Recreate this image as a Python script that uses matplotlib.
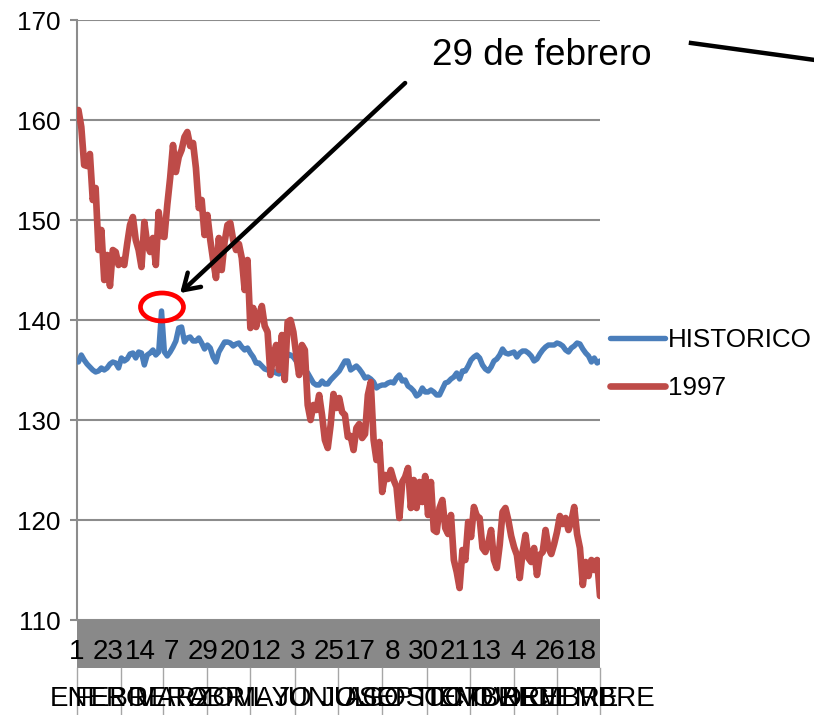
import numpy as np
import pandas as pd
import matplotlib
matplotlib.use('Agg')
import matplotlib.pyplot as plt
import matplotlib.transforms as mtransforms
from matplotlib.patches import Ellipse, Rectangle
from matplotlib.lines import Line2D

plt.rcParams['font.family'] = ['Liberation Sans', 'DejaVu Sans']

# leap-year calendar: 366 daily categories, 29 Feb = index 59
dates = pd.date_range('1996-01-01', '1996-12-31', freq='D')
month_names = ['ENERO', 'FEBRERO', 'MARZO', 'ABRIL', 'MAYO', 'JUNIO', 'JULIO',
               'AGOSTO', 'SEPTIEMBRE', 'OCTUBRE', 'NOVIEMBRE', 'DICIEMBRE']
label_step = 22

# values read every second day (odd day indices 1..365)
sample_days = np.arange(1, len(dates), 2)

historico = [
    135.8, 136.5, 136.0, 135.6, 135.3, 135.0, 134.8, 134.9, 135.2, 135.0,
    135.2, 135.6, 135.8, 135.7, 135.2, 136.2, 135.9, 136.1, 136.6, 136.7,
    136.2, 136.8, 136.7, 135.5, 136.5, 136.7, 137.0, 136.5, 136.8, 140.9,
    136.8, 136.4, 136.8, 137.3, 137.9, 139.2, 139.3, 137.8, 138.2, 138.3,
    137.9, 137.9, 138.2, 137.7, 137.1, 137.5, 137.2, 136.3, 135.8, 136.8,
    137.3, 137.8, 137.8, 137.7, 137.4, 137.6, 137.7, 137.3, 137.0, 137.2,
    136.7, 136.3, 135.7, 135.7, 135.4, 135.1, 135.0, 134.9, 134.9, 134.7,
    134.6, 135.0, 135.6, 136.6, 136.5, 136.3, 135.9, 135.6, 135.4, 135.1,
    134.7, 134.2, 133.7, 133.5, 133.5, 133.9, 133.6, 133.6, 134.0, 134.3,
    134.6, 134.9, 135.4, 135.9, 135.9, 135.0, 135.2, 135.4, 135.1, 134.7,
    134.2, 134.3, 134.1, 133.8, 133.2, 133.4, 133.5, 133.5, 133.7, 133.8,
    133.7, 134.2, 134.5, 133.9, 134.0, 133.4, 133.2, 132.9, 132.4, 132.6,
    133.2, 132.8, 132.8, 133.0, 132.8, 132.5, 132.5, 133.1, 133.7, 133.8,
    134.1, 134.3, 134.7, 134.1, 134.9, 134.9, 135.4, 136.0, 136.3, 136.5,
    136.2, 135.5, 135.1, 134.9, 135.3, 135.9, 136.1, 136.5, 137.1, 136.7,
    136.6, 136.7, 136.8, 136.3, 136.7, 136.9, 136.9, 136.7, 136.4, 135.9,
    136.1, 136.6, 137.0, 137.3, 137.5, 137.5, 137.5, 137.7, 137.6, 137.4,
    137.0, 136.8, 137.2, 137.4, 137.7, 137.6, 137.1, 136.7, 136.4, 135.8,
    136.2, 135.7, 135.9,
]

serie_1997 = [
    161.0, 159.3, 155.5, 155.4, 156.6, 152.0, 153.2, 147.0, 149.0, 144.0,
    146.5, 143.4, 147.0, 146.8, 145.5, 146.0, 145.5, 147.6, 149.5, 150.3,
    148.0, 147.0, 145.3, 149.8, 147.6, 146.8, 148.2, 145.5, 150.8, 148.4,
    148.3, 151.5, 154.2, 157.5, 154.8, 156.3, 157.0, 158.3, 158.8, 157.4,
    157.7, 155.2, 151.2, 152.0, 148.5, 150.5, 148.0, 146.0, 144.2, 148.2,
    145.0, 147.8, 149.5, 149.7, 148.0, 147.0, 147.6, 146.2, 143.0, 146.0,
    139.2, 141.2, 139.3, 140.5, 141.4, 139.4, 138.8, 134.5, 136.5, 137.5,
    135.0, 138.5, 134.0, 139.8, 140.0, 138.8, 136.5, 134.5, 137.5, 137.0,
    131.5, 130.0, 131.5, 131.0, 132.5, 130.5, 128.0, 127.2, 129.5, 132.6,
    131.2, 132.2, 130.8, 130.5, 128.3, 128.4, 127.0, 129.2, 129.6, 128.2,
    128.6, 132.5, 133.8, 128.0, 126.0, 127.8, 122.8, 124.5, 124.1, 125.0,
    124.0, 123.3, 120.2, 123.8, 124.3, 125.2, 121.2, 124.0, 121.2, 123.8,
    121.8, 124.4, 120.5, 123.8, 119.0, 118.8, 121.2, 122.0, 119.2, 118.6,
    120.5, 116.0, 114.8, 113.2, 117.0, 116.0, 119.8, 118.3, 121.3, 120.4,
    120.2, 117.2, 116.8, 117.7, 119.0, 116.0, 115.2, 117.5, 120.8, 121.2,
    120.0, 118.4, 117.3, 116.5, 114.2, 116.8, 118.5, 116.2, 115.8, 117.2,
    114.5, 116.5, 116.8, 119.0, 117.2, 116.6, 117.6, 118.8, 120.4, 119.6,
    120.2, 119.0, 119.9, 121.3, 118.6, 117.2, 113.5, 115.8, 114.4, 116.0,
    115.0, 116.0, 112.4,
]

BLUE = '#4A7EBB'
RED = '#BE4B48'
GRID = '#8C8C8C'
FS = 18.7
FS_CAT = 20

W, H = 814, 715
fig = plt.figure(figsize=(W / 100, H / 100), dpi=100)
ax = fig.add_axes([77 / W, (H - 620) / H, 523 / W, 600 / H])

ax.plot(sample_days, historico, color=BLUE, lw=3.9, solid_joinstyle='round',
        solid_capstyle='round', label='HISTORICO', zorder=3)
ax.plot(sample_days, serie_1997, color=RED, lw=4.8, solid_joinstyle='round',
        solid_capstyle='round', label='1997', zorder=4)

n_days = len(dates)
ax.set_xlim(0, n_days - 1)
ax.set_ylim(110, 170)
ax.set_yticks(np.arange(110, 171, 10))
ax.yaxis.grid(True, color=GRID, lw=1.5, zorder=0)
ax.set_axisbelow(True)
ax.set_xticks([])
for side in ['top', 'right', 'bottom']:
    ax.spines[side].set_visible(False)
ax.spines['left'].set_color(GRID)
ax.spines['left'].set_linewidth(1.5)
ax.tick_params(axis='y', length=5, width=1.5, color=GRID, labelsize=FS, pad=7)

# two-level category axis below the plot (grey day band + month groups)
trans = mtransforms.blended_transform_factory(ax.transData, ax.transAxes)
band_h = 48 / 600
ax.add_patch(Rectangle((0, -band_h), n_days - 1, band_h, transform=trans,
                       facecolor='#898989', edgecolor='none', clip_on=False))
for i in range(0, n_days, label_step):
    ax.text(i, -0.054, str(dates[i].day), transform=trans, ha='center', va='center',
            fontsize=FS_CAT, clip_on=False)

month_starts = [i for i in range(n_days) if dates[i].day == 1] + [n_days - 1]
for x0 in month_starts:
    ax.add_line(Line2D([x0, x0], [-band_h, -0.16], transform=trans, color='#A6A6A6',
                       lw=1.0, clip_on=False))
for k, name in enumerate(month_names):
    xc = (month_starts[k] + month_starts[k + 1]) / 2
    ax.text(xc, -0.132, name, transform=trans, ha='center', va='center',
            fontsize=FS_CAT, clip_on=False)

ax.legend(loc='center left', bbox_to_anchor=(610 / W, (H - 364) / H),
          bbox_transform=fig.transFigure, frameon=False, fontsize=FS,
          handlelength=2.1, handletextpad=0.12, labelspacing=0.9,
          borderpad=0, borderaxespad=0)

# 29 February highlight
feb29 = 59
ax.add_patch(Ellipse((feb29 + 0.3, 141.3), 30, 2.8, facecolor='none',
                     edgecolor='#FF0000', lw=3.4, zorder=6, clip_on=False))
ax.annotate('', xy=(72, 142.7), xytext=(229, 163.7),
            arrowprops=dict(arrowstyle='->, head_length=0.55, head_width=0.35',
                            mutation_scale=20, lw=3.2, color='black',
                            shrinkA=0, shrinkB=0), zorder=7)
fig.text(432 / W, (H - 65) / H, '29 de febrero', fontsize=26.6,
         ha='left', va='baseline')
fig.add_artist(Line2D([691 / W, 1.01], [(H - 43) / H, (H - 61) / H],
                      transform=fig.transFigure, color='black', lw=3.2))

fig.savefig('out.png', dpi=100)
